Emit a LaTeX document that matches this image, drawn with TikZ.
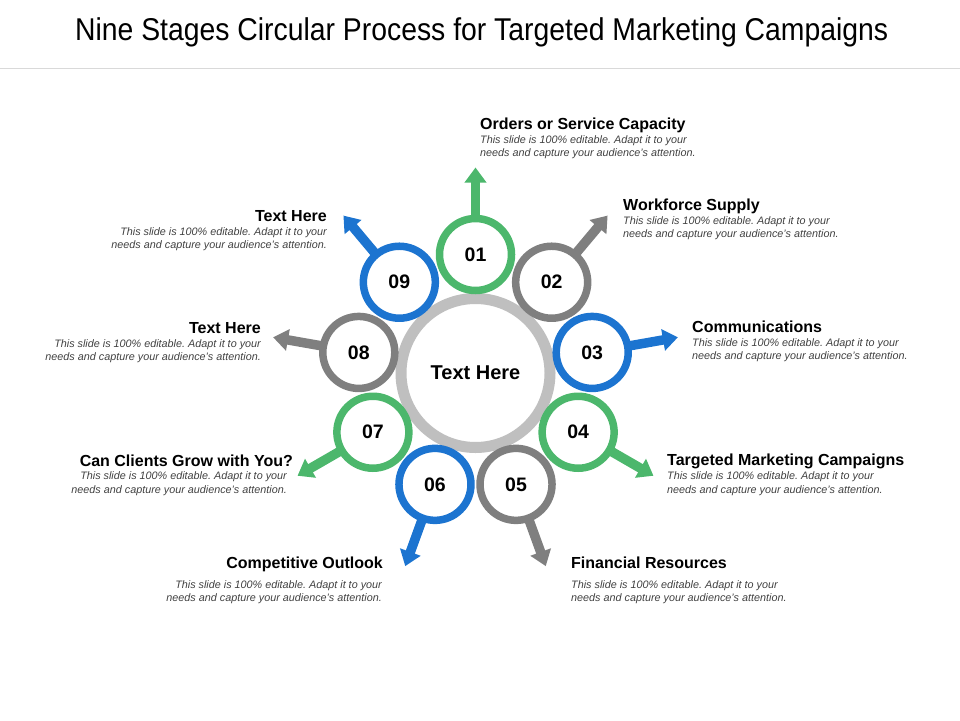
\documentclass[tikz,border=0pt]{standalone}
\usepackage{fontspec}
\setmainfont{Liberation Sans}
\usetikzlibrary{arrows.meta,backgrounds}
\definecolor{cgreen}{HTML}{4CB76C}
\definecolor{cblue}{HTML}{1C74D0}
\definecolor{cgray}{HTML}{7F7F7F}
\definecolor{cring}{HTML}{BFBFBF}
\definecolor{cdesc}{HTML}{404040}
\definecolor{cline}{HTML}{D9D9D9}
\frenchspacing
\begin{document}
\begin{tikzpicture}[x=1pt,y=-1pt,
  stage/.style={circle, draw=#1, line width=7.5pt, fill=white, minimum size=72pt,
    inner sep=0pt, font=\fontsize{19.5}{20}\selectfont\bfseries},
  hub/.style={circle, draw=cring, line width=11pt, fill=white, minimum size=149pt,
    inner sep=0pt, font=\fontsize{20}{22}\selectfont\bfseries},
  arrowline/.style={line width=9.5pt, -{Triangle[width=21pt,length=15pt]}},
  ttl/.style={inner sep=0pt, font=\fontsize{16}{18}\selectfont\bfseries},
  dsc/.style={inner sep=0pt, text=cdesc, font=\fontsize{10.8}{13}\selectfont\itshape}]
\useasboundingbox (0,0) rectangle (960,720);
% title
\node[inner sep=0pt, anchor=base west] (title) at (75,40)
  {\resizebox{813pt}{\height}{\fontsize{31.5}{34}\selectfont Nine Stages Circular Process for Targeted Marketing Campaigns}};
\draw[cline, line width=1pt] (0,68.5) -- (960,68.5);
% hub
\node[hub] (hub) at (475.5,373) {Text Here};
% stages
\foreach \i/\a/\c in {1/90/cgreen, 2/50/cgray, 3/10/cblue, 4/-30/cgreen, 5/-70/cgray,
                      6/-110/cblue, 7/-150/cgreen, 8/170/cgray, 9/130/cblue}{
  \node[stage=\c] (s\i) at ({475.5+118.5*cos(\a)},{373-118.5*sin(\a)}) {0\i};
  \coordinate (tip\i) at ({475.5+205.5*cos(\a)},{373-205.5*sin(\a)});
  \begin{pgfonlayer}{background}
    \draw[arrowline, draw=\c, fill=\c] (s\i.center) -- (tip\i);
  \end{pgfonlayer}
}
% labels
\newcommand\dA{This slide is 100\% editable. Adapt it to your}
\newcommand\dB{needs and capture your audience's attention.}
% 01
\node[ttl, anchor=base west] (t1) at (480,129) {Orders or Service Capacity};
\node[dsc, anchor=base west] (d1a) at (480,143) {\dA};
\node[dsc, anchor=base west] (d1b) at (480,156) {\dB};
% 02
\node[ttl, anchor=base west] (t2) at (623,210) {Workforce Supply};
\node[dsc, anchor=base west] (d2a) at (623,224) {\dA};
\node[dsc, anchor=base west] (d2b) at (623,237) {\dB};
% 03
\node[ttl, anchor=base west] (t3) at (692,332) {Communications};
\node[dsc, anchor=base west] (d3a) at (692,346) {\dA};
\node[dsc, anchor=base west] (d3b) at (692,359) {\dB};
% 04
\node[ttl, anchor=base west] (t4) at (667,465) {Targeted Marketing Campaigns};
\node[dsc, anchor=base west] (d4a) at (667,479) {\dA};
\node[dsc, anchor=base west] (d4b) at (667,493) {\dB};
% 05
\node[ttl, anchor=base west] (t5) at (571,568) {Financial Resources};
\node[dsc, anchor=base west] (d5a) at (571,588) {\dA};
\node[dsc, anchor=base west] (d5b) at (571,601) {\dB};
% 06
\node[ttl, anchor=base east] (t6) at (383,568) {Competitive Outlook};
\node[dsc, anchor=base east] (d6a) at (382,588) {\dA};
\node[dsc, anchor=base east] (d6b) at (382,601) {\dB};
% 07
\node[ttl, anchor=base east] (t7) at (293,466) {Can Clients Grow with You?};
\node[dsc, anchor=base east] (d7a) at (287,479) {\dA};
\node[dsc, anchor=base east] (d7b) at (287,493) {\dB};
% 08
\node[ttl, anchor=base east] (t8) at (261,333) {Text Here};
\node[dsc, anchor=base east] (d8a) at (261,347) {\dA};
\node[dsc, anchor=base east] (d8b) at (261,360) {\dB};
% 09
\node[ttl, anchor=base east] (t9) at (327,221) {Text Here};
\node[dsc, anchor=base east] (d9a) at (327,235) {\dA};
\node[dsc, anchor=base east] (d9b) at (327,248) {\dB};
\end{tikzpicture}
\end{document}
